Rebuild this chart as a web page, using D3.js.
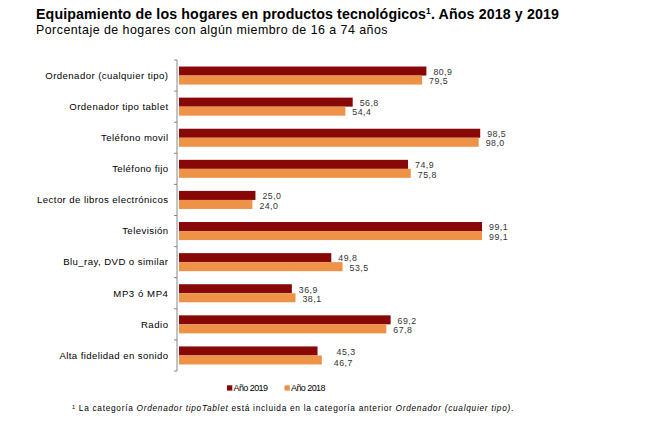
<!DOCTYPE html>
<html><head><meta charset="utf-8">
<script src="https://cdn.jsdelivr.net/npm/d3@7"></script>
<style>body{margin:0;background:#fff;} svg{display:block;font-family:Arial,"Liberation Sans",Helvetica,sans-serif;}</style>
</head><body>
<svg id="c" width="668" height="428"></svg>
<script>
const categories = ["Ordenador (cualquier tipo)","Ordenador tipo tablet","Teléfono movil","Teléfono fijo","Lector de libros electrónicos","Televisión","Blu_ray, DVD o similar","MP3 ó MP4","Radio","Alta fidelidad en sonido"];
const values2019 = [80.9,56.8,98.5,74.9,25.0,99.1,49.8,36.9,69.2,45.3];
const values2018 = [79.5,54.4,98.0,75.8,24.0,99.1,53.5,38.1,67.8,46.7];
const seriesNames = ["Año 2019","Año 2018"];
const colors = ["#880808","#EE9248"];
// label nudges (px) used in the original for the last category
const labelNudge = {"Alta fidelidad en sonido": [[12, 0], [5, 2]]};

const svg = d3.select("#c");
const fmt = v => v.toFixed(1).replace(".", ",");

function fitWidth(sel, target) {
  sel.each(function(){
    const w = this.getComputedTextLength();
    const n = this.textContent.length;
    d3.select(this).attr("letter-spacing", ((target - w)/n).toFixed(3));
  });
}

// Title
const t = svg.append("text").attr("x",36).attr("y",18.5).attr("font-size",14.2).attr("font-weight","bold").attr("fill","#000");
t.append("tspan").text("Equipamiento de los hogares en productos tecnológicos");
t.append("tspan").text("1").attr("font-size",8.5).attr("dy",-5);
t.append("tspan").text(". Años 2018 y 2019").attr("dy",5);
fitWidth(t, 523);
const st = svg.append("text").attr("x",36).attr("y",33.5).attr("font-size",12.4).attr("fill","#000").text("Porcentaje de hogares con algún miembro de 16 a 74 años");
fitWidth(st, 352);

const x = d3.scaleLinear().domain([0,100]).range([179,484.8]);
const y = d3.scaleBand().domain(categories).range([60,371]).paddingInner(0.42).paddingOuter(0.21);
const sub = d3.scaleBand().domain(seriesNames).range([0,y.bandwidth()]);

// axis
svg.append("line").attr("x1",177).attr("x2",177).attr("y1",60).attr("y2",371).attr("stroke","#888").attr("stroke-width",1);
const step = (371-60)/categories.length;
d3.range(categories.length+1).forEach(i=>{
  svg.append("line").attr("x1",174).attr("x2",177).attr("y1",60+i*step).attr("y2",60+i*step).attr("stroke","#888");
});

const g = svg.append("g");
categories.forEach((c,i)=>{
  const yy = y(c);
  const lab = svg.append("text").attr("x",168.5).attr("y",yy+y.bandwidth()/2+3.3).attr("text-anchor","end").attr("font-size",9.6).attr("fill","#000").text(c);
  const w = lab.node().getComputedTextLength();
  lab.attr("letter-spacing", (w*0.10/c.length).toFixed(3));
  [values2019[i], values2018[i]].forEach((v,k)=>{
    const yb = yy + sub(seriesNames[k]);
    const nd = (labelNudge[c] || [[0,0],[0,0]])[k];
    g.append("rect").attr("x",x(0)).attr("y",yb).attr("width",x(v)-x(0)).attr("height",sub.bandwidth()).attr("fill",colors[k]);
    const vt = g.append("text").attr("x",x(v)+7+nd[0]).attr("y",yb+sub.bandwidth()/2+(k===0?3.8:4.2)+nd[1]).attr("font-size",8.8).attr("fill","#333").text(fmt(v));
    fitWidth(vt, 19);
  });
});

// legend
const lg = svg.append("g").attr("font-size",9).attr("fill","#000");
[[227,0],[284.5,1]].forEach(([lx,k])=>{
  lg.append("rect").attr("x",lx).attr("y",385.3).attr("width",5.3).attr("height",5.3).attr("fill",colors[k]);
  const lt = lg.append("text").attr("x",lx+6.5).attr("y",391).text(seriesNames[k]);
  fitWidth(lt, 34);
});

// footnote
const f = svg.append("text").attr("x",72).attr("y",411).attr("font-size",8.3).attr("fill","#000");
f.append("tspan").text("1").attr("font-size",5.5).attr("dy",-2);
f.append("tspan").text(" La categoría ").attr("dy",2);
f.append("tspan").text("Ordenador tipoTablet").attr("font-style","italic");
f.append("tspan").text(" está incluida en la categoría anterior ");
f.append("tspan").text("Ordenador (cualquier tipo)").attr("font-style","italic");
f.append("tspan").text(".");
fitWidth(f, 442);
</script>
</body></html>
